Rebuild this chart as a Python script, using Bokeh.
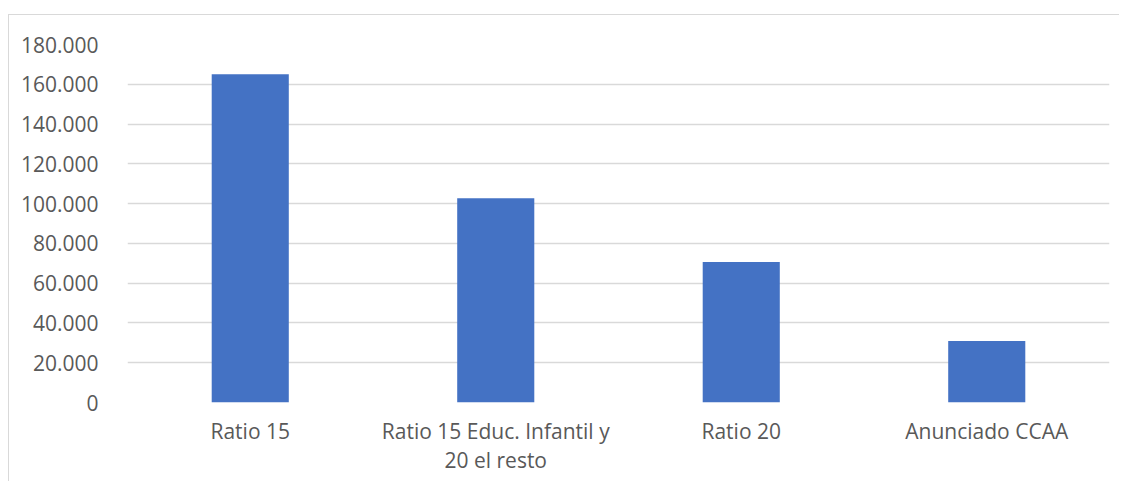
from bokeh.plotting import figure
from bokeh.models import (ColumnDataSource, FactorRange, Range1d, FixedTicker,
                          CategoricalAxis, CustomJSTickFormatter)
from bokeh.embed import file_html
from bokeh.resources import INLINE

categories = ["Ratio 15", "Ratio 15 Educ. Infantil y 20 el resto", "Ratio 20", "Anunciado CCAA"]
label_line1 = ["Ratio 15", "Ratio 15 Educ. Infantil y", "Ratio 20", "Anunciado CCAA"]
label_line2 = ["", "20 el resto", "", ""]
values = [165100, 102700, 70600, 30900]
y_ticks = [0, 20000, 40000, 60000, 80000, 100000, 120000, 140000, 160000, 180000]
y_tick_labels = ["0", "20.000", "40.000", "60.000", "80.000", "100.000", "120.000", "140.000", "160.000", "180.000"]

FONT = "Open Sans"
TEXT_COLOR = "#595959"

source = ColumnDataSource(data=dict(cat=categories, val=values))

p = figure(
    x_range=FactorRange(factors=categories, range_padding=0),
    y_range=Range1d(0, 180000),
    frame_width=982, frame_height=358,
    min_border_left=118, min_border_right=10, min_border_top=29, min_border_bottom=79,
    output_backend="svg", toolbar_location=None,
    styles={"border-top": "1px solid #d9d9d9", "border-left": "1px solid #d9d9d9",
            "margin-top": "14px", "margin-left": "8px"},
)

p.vbar(x="cat", top="val", width=0.314, source=source, fill_color="#4472C4", line_color=None)

p.outline_line_color = None
p.xgrid.grid_line_color = None
p.ygrid.grid_line_color = "#d9d9d9"
p.ygrid.grid_line_width = 1.3
p.ygrid.ticker = FixedTicker(ticks=y_ticks)

p.yaxis.ticker = FixedTicker(ticks=y_ticks)
p.yaxis.major_label_overrides = {t: l for t, l in zip(y_ticks, y_tick_labels)}
p.yaxis.axis_line_color = None
p.yaxis.major_tick_line_color = None
p.yaxis.minor_tick_line_color = None
p.yaxis.major_label_standoff = 23
p.yaxis.major_label_text_font = FONT
p.yaxis.major_label_text_font_size = "21px"
p.yaxis.major_label_text_color = TEXT_COLOR

fmt_code = "return labels[cats.indexOf(tick)];"
p.xaxis.formatter = CustomJSTickFormatter(args=dict(cats=categories, labels=label_line1), code=fmt_code)
p.xaxis.axis_line_color = None
p.xaxis.major_tick_line_color = None
p.xaxis.minor_tick_line_color = None
p.xaxis.major_label_standoff = 8
p.xaxis.major_label_text_font = FONT
p.xaxis.major_label_text_font_size = "21px"
p.xaxis.major_label_text_color = TEXT_COLOR

ax2 = CategoricalAxis(
    formatter=CustomJSTickFormatter(args=dict(cats=categories, labels=label_line2), code=fmt_code),
    axis_line_color=None, major_tick_line_color=None, minor_tick_line_color=None,
    major_label_standoff=-8, major_label_text_font=FONT, major_label_text_font_size="21px",
    major_label_text_color=TEXT_COLOR,
)
p.add_layout(ax2, "below")

open("out.html", "w").write(file_html(p, INLINE))
